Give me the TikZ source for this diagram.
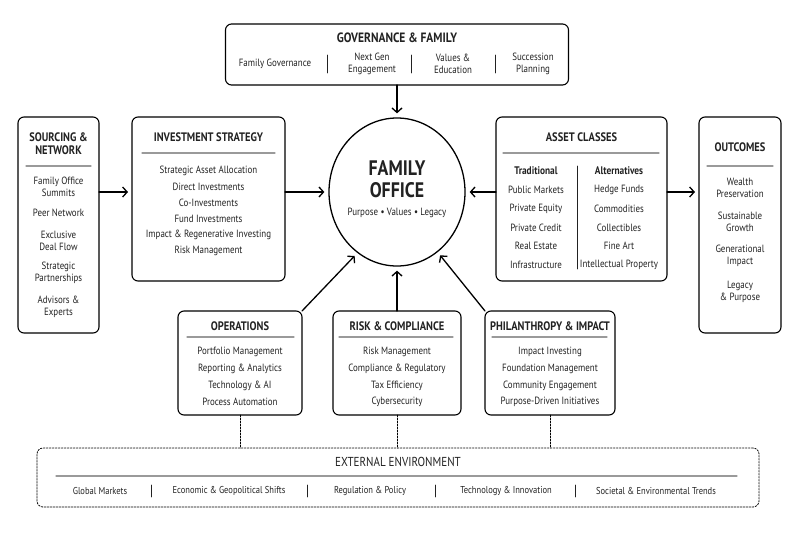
\documentclass[tikz,border=0pt]{standalone}
\usepackage{fontspec}
\setmainfont[FakeStretch=0.85]{PT Sans}
\usetikzlibrary{arrows.meta,shapes.geometric}
\definecolor{ink}{HTML}{222222}
\definecolor{rulegray}{HTML}{9A9A9A}
\begin{document}
\begin{tikzpicture}[x=1pt,y=-1pt, font=\fontsize{10.5}{12.5}\selectfont, text=ink, line join=round, line cap=round,
    >={Straight Barb[length=4.5pt,width=10pt]},
    box/.style={draw, line width=1.1pt, rounded corners=6pt, inner sep=0pt, outer sep=0pt},
    ttl/.style={font=\fontsize{12.3}{12.5}\selectfont\bfseries, align=center},
    txt/.style={align=center},
    rulel/.style={draw=rulegray, line width=1.2pt},
    bar/.style={draw=ink, line width=0.7pt},
    conn/.style={->, line width=1.3pt, shorten >=4pt},
    dots/.style={dash pattern=on 1.6pt off 1.4pt, line width=0.8pt}]
\useasboundingbox (0,0) rectangle (800,533);

% frames
\node[box, minimum width=343pt, minimum height=61pt] (gov) at (397,54.5) {};
\node[box, minimum width=81pt, minimum height=216pt] (src) at (58.5,225) {};
\node[box, minimum width=153pt, minimum height=164pt] (inv) at (208.5,199) {};
\node[box, minimum width=171pt, minimum height=164pt] (ast) at (581.5,199) {};
\node[box, minimum width=82pt, minimum height=216pt] (out) at (740,225) {};
\node[box, minimum width=124pt, minimum height=104pt] (ops) at (240,363) {};
\node[box, minimum width=128pt, minimum height=104pt] (rsk) at (397,363) {};
\node[box, minimum width=130pt, minimum height=104pt] (phi) at (550,363) {};
\node[box, dots, minimum width=722pt, minimum height=59pt] (ext) at (398,477.5) {};
\node[draw, ellipse, line width=1.3pt, minimum width=136pt, minimum height=148pt, inner sep=0pt] (fo) at (397,192) {};

% governance
\node[ttl, font=\fontsize{13.5}{14}\selectfont\bfseries] (gov-t) at (397,38) {GOVERNANCE \& FAMILY};
\path (275,64) node[txt] (gov-1) {Family Governance}
      (372,64) node[txt] (gov-2) {Next Gen\\Engagement}
      (453,64) node[txt] (gov-3) {Values \&\\Education}
      (533,64) node[txt] (gov-4) {Succession\\Planning};
\foreach \x in {327,411,495} \draw[bar] (\x,55) -- (\x,73);

% sourcing
\node[ttl] (src-t) at (58.5,143.5) {SOURCING \&\\NETWORK};
\draw[rulel] (26,166) -- (91,166);
\foreach \lbl/\y [count=\i] in {{Family Office\\Summits}/187, {Peer Network}/213, {Exclusive\\Deal Flow}/241, {Strategic\\Partnerships}/273, {Advisors \&\\Experts}/307}
  \node[txt] (src-\i) at (58.5,\y) {\lbl};

% investment strategy
\node[ttl] (inv-t) at (208.5,137) {INVESTMENT STRATEGY};
\draw[rulel] (142,153) -- (275,153);
\foreach \lbl [count=\i] in {Strategic Asset Allocation, Direct Investments, Co-Investments, Fund Investments, Impact \& Regenerative Investing, Risk Management}
  \node (inv-\i) at (208.5,{171+16*(\i-1)}) {\lbl};

% centre
\node[font=\fontsize{21}{21.5}\selectfont\bfseries, align=center] (fo-t) at (397,179) {FAMILY\\OFFICE};
\node (fo-s) at (397,213) {Purpose \textbullet{} Values \textbullet{} Legacy};

% asset classes
\node[ttl] (ast-t) at (581.5,137) {ASSET CLASSES};
\draw[rulel] (503,153) -- (659,153);
\draw[bar] (577,166) -- (577,269);
\node[font=\fontsize{11}{12}\selectfont\bfseries] (ast-a) at (536,171) {Traditional};
\node[font=\fontsize{11}{12}\selectfont\bfseries] (ast-b) at (619,171) {Alternatives};
\foreach \lbl [count=\i] in {Public Markets, Private Equity, Private Credit, Real Estate, Infrastructure}
  \node (ast-a\i) at (536,{190+18.7*(\i-1)}) {\lbl};
\foreach \lbl [count=\i] in {Hedge Funds, Commodities, Collectibles, Fine Art, Intellectual Property}
  \node (ast-b\i) at (619,{190+18.7*(\i-1)}) {\lbl};

% outcomes
\node[ttl] (out-t) at (740,147) {OUTCOMES};
\draw[rulel] (707,166) -- (773,166);
\foreach \lbl/\y [count=\i] in {{Wealth\\Preservation}/188, {Sustainable\\Growth}/222, {Generational\\Impact}/256, {Legacy\\\& Purpose}/292}
  \node[txt] (out-\i) at (740,\y) {\lbl};

% operations
\node[ttl] (ops-t) at (240,326) {OPERATIONS};
\draw[rulel] (187,337) -- (294,337);
\foreach \lbl [count=\i] in {Portfolio Management, Reporting \& Analytics, Technology \& AI, Process Automation}
  \node (ops-\i) at (240,{352+16.7*(\i-1)}) {\lbl};

% risk
\node[ttl] (rsk-t) at (397,326) {RISK \& COMPLIANCE};
\draw[rulel] (339,337) -- (453,337);
\foreach \lbl [count=\i] in {Risk Management, Compliance \& Regulatory, Tax Efficiency, Cybersecurity}
  \node (rsk-\i) at (397,{352+16.7*(\i-1)}) {\lbl};

% philanthropy
\node[ttl] (phi-t) at (550,326) {PHILANTHROPY \& IMPACT};
\draw[rulel] (492,337) -- (607,337);
\foreach \lbl [count=\i] in {Impact Investing, Foundation Management, Community Engagement, Purpose-Driven Initiatives}
  \node (phi-\i) at (550,{352+16.7*(\i-1)}) {\lbl};

% external environment
\node[font=\fontsize{13}{14}\selectfont] (ext-t) at (398,462) {EXTERNAL ENVIRONMENT};
\draw[rulel] (56,476) -- (737,476);
\path[font=\fontsize{10}{11}\selectfont]
      (100,491) node (ext-1) {Global Markets}
      (229,491) node (ext-2) {Economic \& Geopolitical Shifts}
      (370,491) node (ext-3) {Regulation \& Policy}
      (506,491) node (ext-4) {Technology \& Innovation}
      (656,491) node (ext-5) {Societal \& Environmental Trends};
\foreach \x in {151,307,435,575} \draw[bar] (\x,485) -- (\x,497);

% connectors
\draw[conn] (gov.south) -- (fo.north);
\draw[conn] (src.east |- fo) -- (inv.west |- fo);
\draw[conn] (inv.east |- fo) -- (fo.west);
\draw[conn] (ast.west |- fo) -- (fo.east);
\draw[conn] (ast.east |- fo) -- (out.west |- fo);
\draw[conn] (ops.north east) -- (fo.237);
\draw[conn] (rsk.north) -- (fo.south);
\draw[conn] (phi.north west) -- (fo.304);
\foreach \b in {ops,rsk,phi} \draw[dots] (\b.south) -- (\b.south |- ext.north);
\end{tikzpicture}
\end{document}
